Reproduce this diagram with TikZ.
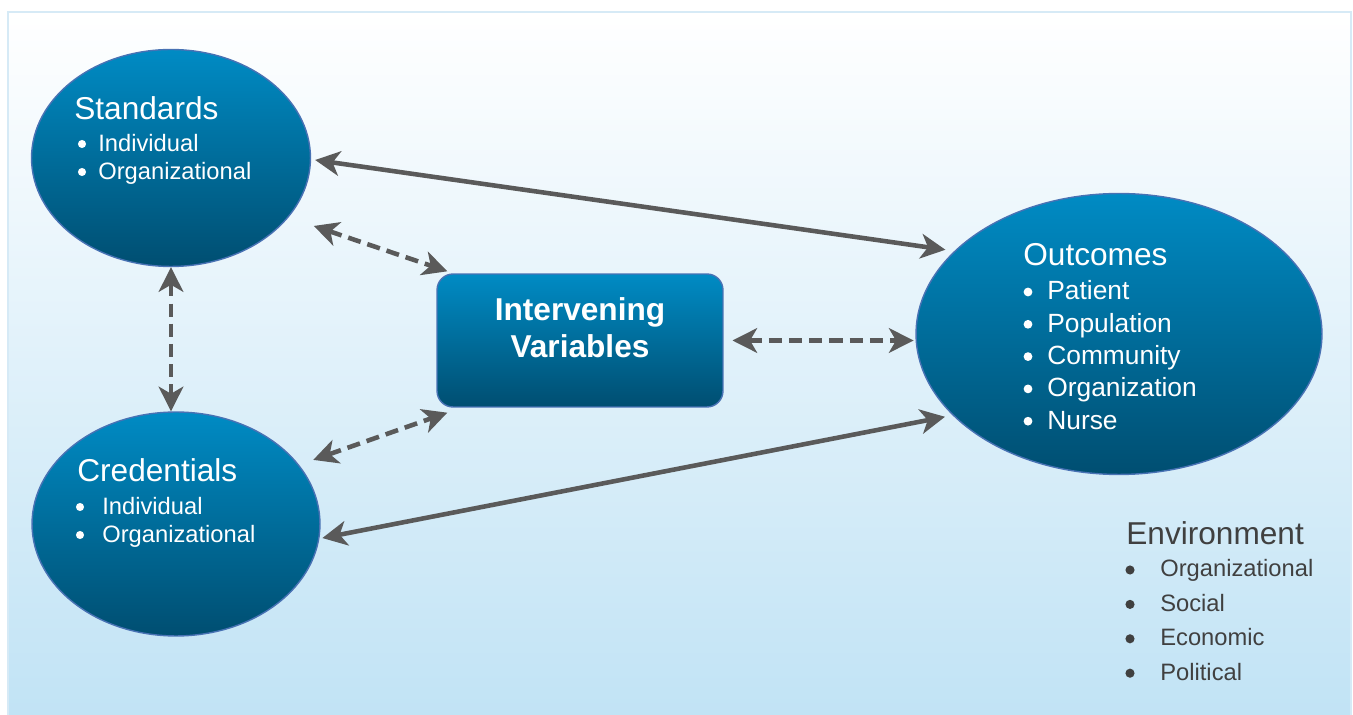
\documentclass[tikz,border=0pt]{standalone}
\usepackage{fontspec}
\setmainfont{Liberation Sans}
\usetikzlibrary{arrows.meta,shapes.geometric}
\definecolor{bubtop}{RGB}{0,139,196}
\definecolor{bubbot}{RGB}{0,78,113}
\definecolor{bubline}{RGB}{72,114,180}
\definecolor{arrgray}{RGB}{90,90,90}
\definecolor{bgblue}{RGB}{193,227,245}
\definecolor{panelline}{RGB}{214,234,246}
\definecolor{envgray}{RGB}{64,64,64}

\begin{document}
\begin{tikzpicture}[x=0.02cm, y=-0.02cm,
		bubble/.style={ellipse, draw=bubline, line width=0.8pt, top color=bubtop, bottom color=bubbot, inner sep=0pt},
		ivbox/.style={rectangle, rounded corners=0.32cm, draw=bubline, line width=0.8pt, top color=bubtop, bottom color=bubbot, inner sep=0pt},
		headtext/.style={anchor=base west, inner sep=0pt, text=white, font=\fontsize{18}{21}\selectfont},
		itemtext/.style={anchor=base west, inner sep=0pt, text=white, font=\fontsize{13.5}{16}\selectfont},
		link/.style={line width=2.6pt, draw=arrgray, {Stealth[length=14pt,width=14pt,inset=4pt]}-{Stealth[length=14pt,width=14pt,inset=4pt]}},
		dlink/.style={link, dash pattern=on 7.5pt off 4pt}]
			%%%%% START %%%%%
			
			\useasboundingbox (0,0) rectangle (1353,715);
			
			\shade[top color=white, bottom color=bgblue] (8,12) rectangle (1351,715);
			\draw[panelline, line width=0.8pt] (8,715) -- (8,12) -- (1351,12) -- (1351,715);
			
			\node[bubble, minimum width=5.58cm, minimum height=4.34cm] (std) at (171,158) {};
			\node[bubble, minimum width=5.76cm, minimum height=4.48cm] (cred) at (176,524) {};
			\node[bubble, minimum width=8.12cm, minimum height=5.62cm] (out) at (1119,334) {};
			\node[ivbox, minimum width=5.72cm, minimum height=2.66cm] (iv) at (580,340.5) {};
			
			% standards
			\node[headtext] (std-head) at (74,120) {Standards};
			\foreach \txt [count=\i from 0] in {Individual,Organizational}{
				\fill[white] (82,144+28*\i) circle[radius=2.3pt];
				\node[itemtext] (std-\i) at (98,152+28*\i) {\txt};
			}
			
			% credentials
			\node[headtext] (cred-head) at (77,482) {Credentials};
			\foreach \txt [count=\i from 0] in {Individual,Organizational}{
				\fill[white] (80,507+28*\i) circle[radius=2.3pt];
				\node[itemtext] (cred-\i) at (102,515+28*\i) {\txt};
			}
			
			% outcomes
			\node[headtext] (out-head) at (1023,266) {Outcomes};
			\foreach \txt [count=\i from 0] in {Patient,Population,Community,Organization,Nurse}{
				\fill[white] (1028,292+32.3*\i) circle[radius=2.5pt];
				\node[itemtext, font=\fontsize{15}{18}\selectfont] (out-\i) at (1047,300+32.3*\i) {\txt};
			}
			
			\node[anchor=north, inner sep=0pt, align=center, text=white, font=\bfseries\fontsize{18}{21}\selectfont] (iv-text) at (580,297) {Intervening\\Variables};
			
			% environment
			\node[headtext, text=envgray] (env-head) at (1126,545) {Environment};
			\foreach \txt [count=\i from 0] in {Organizational,Social,Economic,Political}{
				\fill[envgray] (1130,570+34.4*\i) circle[radius=2.6pt];
				\node[itemtext, text=envgray] (env-\i) at (1160,577+34.4*\i) {\txt};
			}
			
			% links
			\draw[link] ([shift={(4,2)}]std.east) -- ([shift={(-7,-3)}]out.154);
			\draw[link] ([shift={(3,-1)}]cred.-6) -- ([shift={(-5,4)}]out.205);
			\draw[dlink] ([shift={(24,10)}]std.-26) -- ([shift={(11,-2)}]iv.north west);
			\draw[dlink] ([shift={(21,3)}]cred.30) -- ([shift={(11,5)}]iv.south west);
			\draw[dlink, shorten <=5pt, shorten >=1pt] (iv.east) -- (iv.east -| out.west);
			\draw[dlink] (std.south) -- (std.south |- cred.north);
			
			%%%%% END %%%%%
\end{tikzpicture}
\end{document}
